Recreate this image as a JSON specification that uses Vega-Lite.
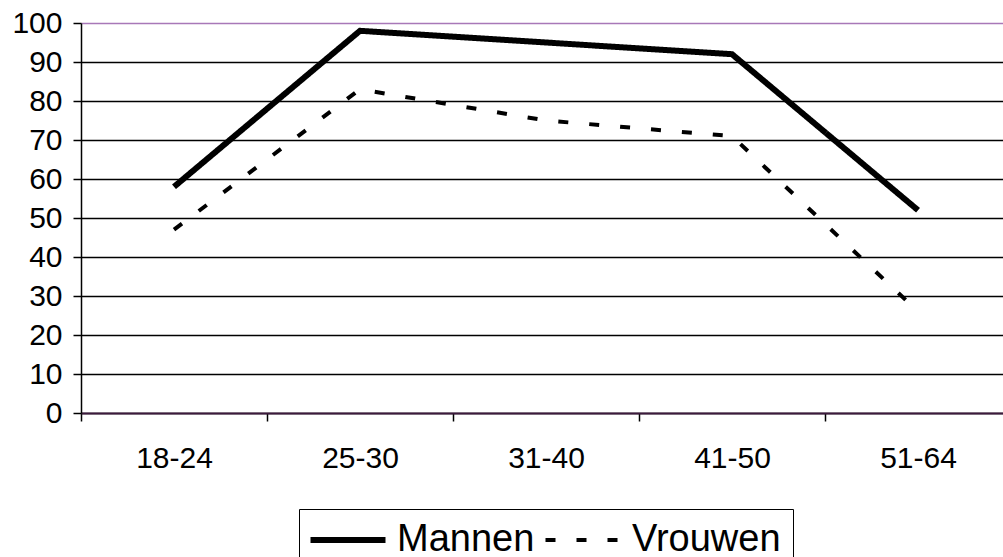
{
  "$schema": "https://vega.github.io/schema/vega-lite/v6.json",
  "width": 930,
  "height": 390,
  "autosize": "none",
  "padding": {"left": 81, "top": 23, "right": -8, "bottom": 144},
  "background": "white",
  "config": {
    "view": {"stroke": null},
    "font": "Liberation Sans"
  },
  "data": {
    "values": [
      {"leeftijd": "18-24", "geslacht": "Mannen", "waarde": 58},
      {"leeftijd": "25-30", "geslacht": "Mannen", "waarde": 98},
      {"leeftijd": "31-40", "geslacht": "Mannen", "waarde": 95},
      {"leeftijd": "41-50", "geslacht": "Mannen", "waarde": 92},
      {"leeftijd": "51-64", "geslacht": "Mannen", "waarde": 52},
      {"leeftijd": "18-24", "geslacht": "Vrouwen", "waarde": 47},
      {"leeftijd": "25-30", "geslacht": "Vrouwen", "waarde": 83},
      {"leeftijd": "31-40", "geslacht": "Vrouwen", "waarde": 75},
      {"leeftijd": "41-50", "geslacht": "Vrouwen", "waarde": 71},
      {"leeftijd": "51-64", "geslacht": "Vrouwen", "waarde": 26}
    ]
  },
  "mark": {"type": "line", "color": "black", "strokeCap": "butt", "strokeJoin": "miter"},
  "encoding": {
    "x": {
      "field": "leeftijd",
      "type": "ordinal",
      "sort": ["18-24", "25-30", "31-40", "41-50", "51-64"],
      "scale": {"type": "band", "paddingInner": 0, "paddingOuter": 0},
      "axis": {
        "title": null,
        "labelAngle": 0,
        "labelFontSize": 30,
        "labelColor": "black",
        "labelPadding": 22,
        "tickBand": "extent",
        "tickSize": 8,
        "tickColor": "black",
        "tickWidth": 1.5,
        "domainColor": "#3c1a3c",
        "domainWidth": 2,
        "grid": false
      }
    },
    "y": {
      "field": "waarde",
      "type": "quantitative",
      "scale": {"domain": [0, 100]},
      "axis": {
        "title": null,
        "values": [0, 10, 20, 30, 40, 50, 60, 70, 80, 90, 100],
        "labelFontSize": 30,
        "labelColor": "black",
        "labelPadding": 11,
        "tickSize": 8,
        "tickColor": "black",
        "tickWidth": 1.5,
        "domainColor": "black",
        "domainWidth": 1.5,
        "gridWidth": 1.5,
        "gridColor": {"condition": {"test": "datum.value === 100", "value": "#a878b8"}, "value": "black"}
      }
    },
    "strokeDash": {
      "field": "geslacht",
      "type": "nominal",
      "scale": {"domain": ["Mannen", "Vrouwen"], "range": [[1, 0], [10, 21]]},
      "legend": {
        "orient": "none",
        "legendX": 218,
        "legendY": 486,
        "direction": "horizontal",
        "gridAlign": "none",
        "title": null,
        "symbolType": "M-1.56,0H4.44",
        "symbolSize": 625,
        "symbolStrokeColor": "black",
        "symbolStrokeWidth": 5,
        "labelFontSize": 38,
        "labelColor": "black",
        "labelOffset": 48,
        "columnPadding": 2,
        "padding": 12,
        "strokeColor": "black",
        "fillColor": "white"
      }
    },
    "strokeWidth": {
      "field": "geslacht",
      "type": "nominal",
      "scale": {"domain": ["Mannen", "Vrouwen"], "range": [6, 4]},
      "legend": null
    }
  }
}
